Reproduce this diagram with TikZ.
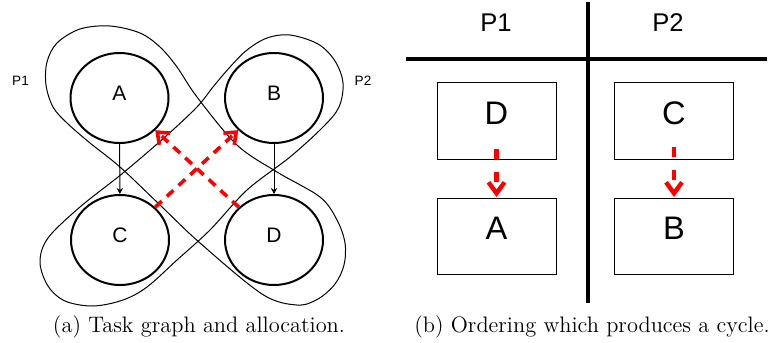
\documentclass[tikz,border=0pt]{standalone}
\usepackage{fontspec}
\usetikzlibrary{shapes.geometric,arrows.meta}
\newfontfamily\labfont{Liberation Sans}
\begin{document}
\begin{tikzpicture}[x=0.5pt,y=-0.5pt,
  task/.style={ellipse,draw,line width=1pt,minimum width=49pt,minimum height=45pt,inner sep=0pt,
    font=\labfont\fontsize{10.5}{12}\selectfont,text depth=5pt},
  slot/.style={rectangle,draw,line width=0.5pt,minimum width=59.5pt,minimum height=38pt,inner sep=0pt,
    font=\labfont\fontsize{16.3}{18}\selectfont,text depth=8pt},
  blob/.style={draw,line width=0.5pt},
  dep/.style={draw,line width=0.5pt,-{Stealth[length=3pt,width=3.2pt]}},
  cyc/.style={draw=red,line width=1.8pt,dash pattern=on 4.5pt off 3.5pt,-{Straight Barb[length=5pt,width=8pt]}},
  cycb/.style={draw=red,line width=2.2pt,dash pattern=on 5pt off 6.5pt,-{Straight Barb[length=5.5pt,width=8pt]}},
  tline/.style={draw,line width=2pt},
  plab/.style={font=\labfont\fontsize{6.8}{8}\selectfont,inner sep=0pt},
  hlab/.style={font=\labfont\fontsize{12.8}{14}\selectfont,inner sep=0pt},
  captext/.style={font=\fontsize{11.2}{13}\selectfont,inner sep=0pt}]
\useasboundingbox (0,0) rectangle (774,342);
% allocation blobs
\draw[blob] plot[smooth cycle,tension=0.55] coordinates {
  (57,43) (80,29) (110,26) (140,33) (160,47) (177,67) (197,97) (237,145) (277,172)
  (320,197) (337,220) (345,243) (344,265) (335,284) (318,299) (297,305) (262,294)
  (200,243) (160,205) (120,167) (90,143) (67,123) (53,107) (46,85) (47,62)};
\draw[blob] plot[smooth cycle,tension=0.55] coordinates {
  (267,38) (290,35) (318,44) (335,61) (343,83) (339,107) (323,127) (290,157) (247,190)
  (210,230) (177,260) (147,287) (123,300) (93,306) (65,301) (48,286) (40,262) (48,238)
  (80,207) (123,173) (165,137) (197,107) (213,87) (230,67) (247,50)};
% tasks
\node[task] (A) at (119.5,98) {A};
\node[task] (B) at (274,98) {B};
\node[task] (C) at (120,240) {C};
\node[task] (D) at (274,240) {D};
\node[plab] (p1) at (20.5,81) {P1};
\node[plab] (p2) at (363,81) {P2};
\draw[dep] (A) -- (C);
\draw[dep] (B) -- (D);
\draw[cyc] (C.43) -- (B.222);
\draw[cyc] (D.137) -- (A.318);
% ordering
\draw[tline] (406,59) -- (767,59);
\draw[tline] (588,2) -- (588,303);
\node[hlab] (h1) at (496,22.5) {P1};
\node[hlab] (h2) at (668,22.5) {P2};
\node[slot] (sD) at (496.5,121) {D};
\node[slot] (sA) at (496.5,236.5) {A};
\node[slot] (sC) at (674,121) {C};
\node[slot] (sB) at (674,236.5) {B};
\draw[cycb,shorten <=-5.5pt,shorten >=0.5pt] (sD.south) -- (sA.north);
\draw[cycb,shorten <=-6.5pt,shorten >=0.5pt] (sC.south) -- (sB.north);
% captions
\node[captext] (ca) at (199,326.5) {(a) Task graph and allocation.};
\node[captext] (cb) at (592,326.5) {(b) Ordering which produces a cycle.};
\end{tikzpicture}
\end{document}
